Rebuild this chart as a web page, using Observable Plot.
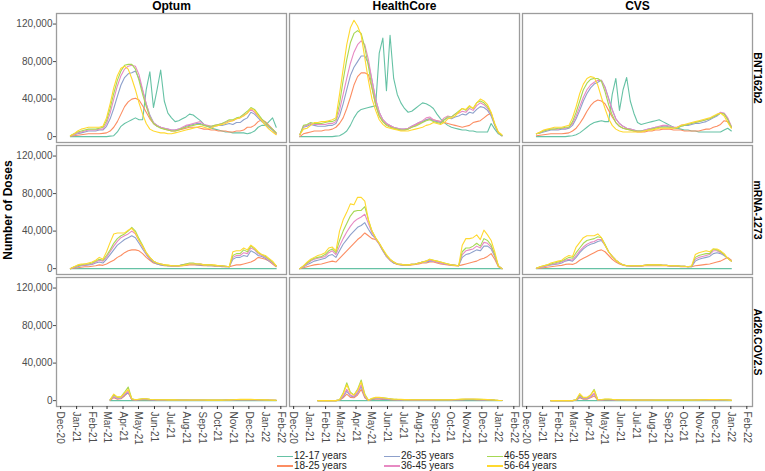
<!DOCTYPE html>
<html><head><meta charset="utf-8">
<script src="https://cdn.jsdelivr.net/npm/d3@7"></script>
<script src="https://cdn.jsdelivr.net/npm/@observablehq/plot@0.6"></script>
<style>
body{margin:0;background:#fff;font-family:"Liberation Sans",Arial,sans-serif;}
#wrap{position:relative;width:765px;height:471px;overflow:hidden;}
.lg{position:absolute;font-size:10px;color:#222;line-height:10px;white-space:nowrap;}
.sw{position:absolute;height:1.6px;width:16px;}
</style></head><body><div id="wrap"><div id="chart"></div></div>
<script>
const sources = ["Optum", "HealthCore", "CVS"];
const vaccines = ["BNT162b2", "mRNA-1273", "Ad26.COV2.S"];
const ages = ["12-17 years", "18-25 years", "26-35 years", "36-45 years", "46-55 years", "56-64 years"];
const colors = ["#66c2a5", "#fc8d62", "#8da0cb", "#e78ac3", "#a6d854", "#ffd92f"];
const monthTicks = ["2020-12-01","2021-01-01","2021-02-01","2021-03-01","2021-04-01","2021-05-01","2021-06-01","2021-07-01","2021-08-01","2021-09-01","2021-10-01","2021-11-01","2021-12-01","2022-01-01","2022-02-01"];
const yTicks = [0, 40000, 80000, 120000];

// weekly doses, thousands; series order follows `ages`
const optumStart = "2020-12-20", healthcoreStart = "2020-12-13", cvsStart = "2020-12-20";
const optumAdStart = "2021-03-07", healthcoreAdStart = "2021-01-17", cvsAdStart = "2021-01-17";

const optumBNT = [
 [0,0,0,0,0,0,0,0,0,0,0,0.5, 1,5,11,14,16,18,20,18,18,50,69,31, 50,71,38,25,20,16,17,19,21,24,23,20, 17,13,11,9,8,7,6,5,5,4,4,4, 4,3,4,6,10,12,12,16,20,10],
 [0.5,1,1.5,2,2.5,3,3,3,3,3.5,4,6, 10,16,24,32,37,40,41,39,33,26,19,14, 11,10,8,7,6,6,7,8,9,10,10,10, 9,8,8,7,7,6,6,6,5,5,6,6, 7,10,10,12,16,18,16,12,8,4],
 [1,2,3,4,5,6,6,6,7,7,11,19, 30,43,55,63,67,68,70,62,49,35,23,15, 12,10,9,8,7,7,8,9,11,12,13,14, 14,12,11,10,11,12,12,13,14,13,15,15, 18,20,26,24,20,16,13,10,7,3],
 [1,2,4,5,6,7,7,7,8,8,14,25, 40,54,65,72,75,76,75,66,50,35,22,15, 12,10,9,8,7,7,8,10,12,13,14,15, 16,13,12,11,12,13,14,15,17,17,19,20, 23,25,29,26,22,18,15,11,8,3],
 [1,3,5,6,7,8,8,8,9,10,17,30, 46,60,70,76,77,77,72,60,45,32,21,14, 11,9,8,7,6,6,7,9,10,11,12,13, 13,12,11,11,12,13,14,16,18,18,20,21, 24,27,31,29,24,19,15,11,8,4],
 [1,3,6,8,9,10,10,10,10,11,20,35, 52,65,73,75,72,62,50,36,24,14,8,6, 5,4,4,3,3,4,5,6,7,8,9,10, 11,10,9,9,11,12,13,14,16,17,19,20, 22,25,30,28,22,17,12,8,5,2]
];
const healthcoreBNT = [
 [0,0,0,0,0,0,0,0,0,0,0.5,1, 3,6,12,20,26,29,30,31,32,33,89,105, 49,108,62,45,36,30,26,27,30,33,36,35, 33,30,24,19,15,12,10,9,8,7,7,6, 6,5,5,5,5,14,8,3,1],
 [0,3,4,5,6,6,6,7,7,8,10,14, 20,30,42,55,64,68,68,66,52,34,22,16, 13,11,9,8,7,7,8,10,12,14,16,18, 19,18,17,16,15,14,13,12,11,10,11,12, 15,16,17,20,23,25,12,4,1],
 [2,10,11,13,12,11,11,11,12,12,14,22, 35,50,65,74,80,86,86,78,60,40,26,18, 14,12,10,9,8,8,9,11,13,15,16,18, 19,17,16,15,18,20,19,21,22,24,23,26, 25,29,32,31,28,22,12,4,1],
 [2,11,12,14,13,13,13,13,14,14,16,28, 45,62,78,90,98,102,98,82,60,40,26,18, 14,12,10,9,8,8,9,11,13,15,17,20, 21,18,17,16,20,22,21,24,25,27,26,30, 28,33,36,34,30,24,13,4,1],
 [2,12,13,15,14,14,14,15,16,16,18,35, 60,82,100,110,113,110,95,75,52,34,22,16, 12,10,9,8,7,7,8,10,11,13,15,17, 18,16,15,14,18,21,21,24,27,30,28,32, 30,36,38,36,32,25,13,4,1],
 [2,8,9,12,15,15,16,16,17,18,20,45, 72,98,116,124,118,108,84,60,40,28,18,13, 10,9,8,7,6,6,6,7,8,9,10,12, 13,15,14,13,15,19,20,22,26,30,29,33, 30,36,40,38,34,26,14,5,2]
];
const cvsBNT = [
 [0,0,0,0,0,0,0,0,0,0.5,1,2, 4,7,10,13,15,16,17,16,16,45,62,28, 50,63,38,25,15,13,14,15,16,17,18,16, 14,12,10,9,8,7,7,6,6,5,5,5, 5,5,5,5,7,9,6],
 [1,1.5,2,2.5,3,3,3,3,3.5,4,6,9, 14,20,27,33,37,39,38,35,28,21,15,11, 9,8,7,6,5,5,5,6,6,7,7,8, 8,8,7,7,7,6,6,6,6,6,7,8, 8,10,11,13,17,16,10],
 [3,4,5,6,7,7,7,8,8,9,12,19, 28,38,46,52,56,58,60,53,41,29,19,14, 11,9,8,7,6,6,7,8,9,10,10,11, 11,10,10,9,11,12,12,13,14,14,15,16, 18,20,22,25,25,19,10],
 [3,4,6,7,8,8,8,9,9,10,14,22, 32,42,50,55,58,60,60,52,40,28,19,14, 11,9,8,7,6,6,7,8,9,10,11,12, 12,11,10,10,12,13,13,14,15,16,17,18, 19,21,23,26,25,20,11],
 [3,4,6,7,8,8,9,9,10,10,16,26, 38,50,57,61,62,62,59,48,34,23,15,11, 9,8,7,6,6,6,6,7,8,9,10,10, 10,10,9,9,11,12,13,14,15,16,17,18, 19,21,23,25,24,18,10],
 [3,5,7,8,9,10,10,10,11,12,20,32, 46,56,62,64,63,55,42,30,19,12,8,6, 5,5,5,5,5,5,6,7,7,8,9,9, 9,9,9,10,12,13,14,15,16,17,18,19, 20,22,24,25,22,15,9]
];
const optumMRNA = [
 [0,0,0,0,0,0,0,0,0,0,0,0, 0,0,0,0,0,0,0,0,0,0,0,0, 0,0,0,0,0,0,0,0,0,0,0,0, 0,0,0,0,0,0,0,0,0,0,0,0, 0,0,0,0,0,0,0,0,0,0],
 [0,0.5,1,1.5,2,2,2.5,3,4,3.5,5,7, 9,12,14,17,19,20,20,19,16,12,9,6, 5,4,3,3,2.5,2.5,2.5,3,3.5,4,4,4, 3.5,3,3,3,2.5,2.5,2,2,2,3,4,4, 5,6,7,9,12,11,10,8,5,2],
 [0,1,2,3,3.5,4,4.5,6,7,6,10,15, 20,25,28,31,33,35,33,27,21,15,10,7, 5,4,3.5,3,3,3,3,4,4,5,5,4, 4,4,3,3,3,3,2.5,2,2,10,12,12, 14,13,19,17,14,13,11,8,6,3],
 [0,1.5,3,3.5,4,4.5,5,7,9,8,12,18, 24,29,33,35,37,40,37,30,23,16,11,8, 6,5,4,3,3,3,3,4,5,5,5,5, 5,4,4,4,3,3,3,2.5,2,12,14,14, 17,16,22,20,16,14,12,9,6,3],
 [0,2,3,4,5,5,6,8,10,9,14,20, 27,32,35,37,40,44,40,32,25,17,12,8, 6,5,4,3,3,3,3,4,5,6,6,5, 5,4,4,4,3,3,3,2.5,2,14,16,16, 20,18,24,21,17,15,13,10,7,3],
 [0,2,4,5,5,6,7,9,12,10,18,28, 37,38,38,38,41,43,38,30,24,17,12,8, 6,5,4,4,3,3,3,3,4,5,5,5, 5,4,4,4,4,3,3,2.5,2,18,19,19, 22,20,25,22,18,15,14,11,8,3]
];
const healthcoreMRNA = [
 [0,0,0,0,0,0,0,0,0,0,0,0, 0,0,0,0,0,0,0,0,0,0,0,0, 0,0,0,0,0,0,0,0,0,0,0,0, 0,0,0,0,0,0,0,0,0,0,0,0, 0,0,0,0,0,0,0,0,0],
 [0,1,2,3,4,4.5,5,6,7,8,7,11, 15,19,23,27,31,34,38,35,32,31,27,20, 13,9,6,4.5,4,3.5,3.5,4,4.5,5,6,6, 7,7,6,5,4.5,4,3.5,3,3,4,5,6, 7,8,10,11,13,16,10,2,0],
 [0,2,4,6,8,9,10,11,14,15,12,19, 26,31,36,40,44,46,49,42,36,32,26,19, 13,9,6,5,4,4,4,4.5,5,6,7,7, 8,8,7,6,5,4.5,4,3.5,3,12,15,16, 18,20,19,24,24,21,13,3,0],
 [0,2.5,5,8,10,11,12,13,17,19,15,24, 32,39,45,50,53,55,58,48,38,32,26,19, 13,9,7,5,4.5,4,4,4.5,5,6,7,8, 9,8,7,6,5,4.5,4,3.5,3,15,19,20, 21,24,22,28,27,23,14,3,0],
 [0,3,6,9,11,12,13,15,19,21,17,30, 40,48,56,61,62,62,66,52,40,33,27,20, 14,10,7,5,4.5,4,4,4.5,5,6,7,8, 10,9,8,7,6,5,4,3.5,3,18,22,22, 24,27,24,32,30,25,15,3,0],
 [0,3,7,10,12,14,15,17,22,23,19,40, 52,60,69,68,76,76,72,52,40,33,27,21, 15,10,7,5,4.5,4,4,4.5,5,6,7,8, 10,9,8,7,6,5,4,3.5,3,25,32,32, 33,36,31,41,36,30,18,3,0]
];
const cvsMRNA = [
 [0,0,0,0,0,0,0,0,0,0,0,0, 0,0,0,0,0,0,0,0,0,0,0,0, 0,0,0,0,0,0,0,0,0,0,0,0, 0,0,0,0,0,0,0,0,0,0,0,0, 0,0,0,0,0,0,0],
 [0.3,0.5,1,1.5,2,2.5,3,3.5,4.5,5,4.5,6, 9,11,13,15,17,19,20,18,14,10,7,5, 3.5,3,2.5,2.5,2.5,2.5,3,3,3,3,3,3, 3,2.5,2.5,2.5,2,2,2,2,3,3.5,4,4.5, 5,6,7,8,10,12,9],
 [0.5,1.5,2,3,4,4.5,5,6,8,9,8,12, 17,21,24,26,27,29,30,25,18,13,9,6, 4,3,3,3,3,3,3.5,4,4,4,4,3.5, 3.5,3,3,3,2.5,2.5,2,2,8,10,11,12, 13,16,17,16,14,11,8],
 [0.5,1.5,2.5,3.5,4.5,5,6,7,9,10,9,14, 19,23,26,28,29,31,31,25,18,13,9,6, 4,3,3,3,3,3,3.5,4,4,4,4,3.5, 3.5,3,3,3,2.5,2.5,2,2.5,10,12,13,14, 15,19,19,17,15,11,8],
 [0.5,2,3,4,5,6,7,8,10,12,11,17, 22,27,30,31,32,34,33,26,18,13,9,6, 4,3,3,3,3,3,3.5,4,4,4,4,3.5, 3.5,3,3,3,2.5,2.5,2,2.5,12,14,15,16, 16,21,20,18,15,11,8],
 [0.5,2,3,4,6,7,8,9,12,14,13,23, 28,33,35,35,35,37,33,25,18,13,9,6, 4,3,3,3,3,3,3.5,4,4,4,4,3.5, 3.5,3,3,3,2.5,2.5,2,3,15,17,18,19, 18,21,21,19,16,11,8]
];
const optumAD = [
 [0,0,0,0,0,0,0,0,0,0,0,0, 0,0,0,0,0,0,0,0,0,0,0,0, 0,0,0,0,0,0,0,0,0,0,0,0, 0,0,0,0,0,0,0,0,0,0,0],
 [0.5,3,1.5,2,5,8.5,1,0.5,0.8,1,1,0.8, 0.7,0.6,0.6,0.6,0.5,0.5,0.5,0.4,0.4,0.4,0.4,0.4, 0.4,0.4,0.4,0.3,0.3,0.3,0.3,0.3,0.4,0.5,0.6,0.7, 0.8,0.8,0.9,0.8,0.7,0.6,0.5,0.4,0.3,0.3,0.2],
 [0.7,4,2,2.5,6,9,1.2,0.7,1,1.3,1.3,1, 0.8,0.7,0.7,0.7,0.5,0.5,0.5,0.5,0.5,0.5,0.4,0.4, 0.4,0.4,0.4,0.4,0.4,0.4,0.4,0.4,0.5,0.6,0.7,0.8, 0.9,0.9,1,0.9,0.8,0.7,0.6,0.5,0.4,0.3,0.3],
 [0.8,4.5,2.5,3,7,10,1.5,0.8,1.2,1.5,1.5,1.2, 1,0.8,0.8,0.8,0.6,0.6,0.6,0.5,0.5,0.5,0.5,0.5, 0.5,0.5,0.5,0.4,0.4,0.4,0.4,0.4,0.5,0.6,0.8,0.9, 1,1,1.1,1,0.9,0.8,0.7,0.6,0.5,0.4,0.3],
 [1,6,3.5,4,9,14.5,2,1,1.5,2,2,1.5, 1.2,1,1,1,0.8,0.8,0.8,0.7,0.7,0.7,0.6,0.6, 0.6,0.6,0.6,0.5,0.5,0.5,0.5,0.5,0.6,0.7,0.9,1, 1.1,1.1,1.2,1.1,1,0.9,0.8,0.7,0.5,0.4,0.3],
 [1,7,4,4,8,12,2,1,1.5,2,2,1.5, 1.2,1,1,1,0.8,0.8,0.8,0.7,0.7,0.7,0.6,0.6, 0.6,0.6,0.6,0.5,0.5,0.5,0.5,0.5,0.6,0.8,1,1.2, 1.3,1.3,1.4,1.3,1.2,1,0.9,0.8,0.6,0.5,0.4]
];
const healthcoreAD = [
 [0,0,0,0,0,0,0,0,0,0, 0,0,0,0,0,0,0,0,0,0, 0,0,0,0,0,0,0,0,0,0, 0,0,0,0,0,0,0,0,0,0, 0,0,0,0,0,0,0,0,0,0, 0,0],
 [0,0,0,0,0,0, 0.4,3,7,3.5,3,6,12,3,0.2,1.2,1.5,1.5,1.3,1.2,1, 0.8,0.7,0.6,0.6,0.6,0.5,0.5,0.5,0.5,0.5, 0.5,0.5,0.5,0.5,0.5,0.5,0.5,0.6,0.7,0.8,0.9, 0.9,0.9,0.8,0.8,0.7,0.6,0.5,0.3,0.2,0.1],
 [0,0,0,0,0,0, 0.6,4,10,5,4,8,15,4,0.3,1.6,2,2,1.8,1.6,1.3, 1,0.9,0.8,0.8,0.7,0.7,0.7,0.7,0.7,0.7, 0.7,0.7,0.6,0.6,0.6,0.6,0.7,0.8,0.9,1,1.1, 1.1,1.1,1,0.9,0.8,0.7,0.6,0.4,0.2,0.1],
 [0,0,0,0,0,0, 0.7,5,12,6,4.5,9,17,5,0.4,2,2.5,2.5,2.2,2,1.6, 1.2,1,1,0.9,0.9,0.8,0.8,0.8,0.8,0.8, 0.8,0.8,0.7,0.7,0.7,0.7,0.8,0.9,1,1.2,1.3, 1.3,1.3,1.2,1.1,1,0.9,0.7,0.4,0.2,0.1],
 [0,0,0,0,0,0, 1,8,19,9,6,12,22,7,0.5,2,3,3,3,2.5,2, 1.5,1.3,1.2,1,1,1,0.9,0.9,0.9,0.9, 0.9,0.9,0.8,0.8,0.8,0.8,0.9,1,1.2,1.4,1.5, 1.5,1.5,1.4,1.3,1.2,1,0.8,0.5,0.3,0.2],
 [0,0,0,0,0,0, 1,7,17,8,6,11,20,6,0.5,2.5,3.5,3.5,3,2.5,2, 1.6,1.4,1.3,1.1,1.1,1,1,1,1,1, 1,1,0.9,0.9,0.9,0.9,1,1.2,1.4,1.6,1.7, 1.7,1.7,1.6,1.5,1.3,1.1,0.9,0.6,0.3,0.2]
];
const cvsAD = [
 [0,0,0,0,0,0,0,0,0,0, 0,0,0,0,0,0,0,0,0,0, 0,0,0,0,0,0,0,0,0,0, 0,0,0,0,0,0,0,0,0,0, 0,0,0,0,0,0,0,0,0,0, 0],
 [0,0,0,0,0,0,0, 0.4,3,1.5,1.5,3,5,0.4,0.5,0.7,0.7,0.6,0.5, 0.4,0.4,0.4,0.4,0.3,0.3,0.3,0.3,0.3,0.3,0.3,0.3, 0.3,0.3,0.3,0.3,0.3,0.3,0.3,0.3,0.3,0.3,0.4,0.5, 0.5,0.6,0.6,0.6,0.5,0.4,0.3,0.2],
 [0,0,0,0,0,0,0, 0.5,4,2,2,4,7,0.6,0.7,1,1,0.8,0.7, 0.5,0.5,0.5,0.5,0.4,0.4,0.4,0.4,0.4,0.4,0.4,0.4, 0.4,0.4,0.4,0.4,0.4,0.4,0.4,0.4,0.4,0.4,0.5,0.6, 0.7,0.7,0.7,0.7,0.6,0.5,0.4,0.3],
 [0,0,0,0,0,0,0, 0.6,5,2.5,2.5,4.5,8,0.8,0.8,1.2,1.2,1,0.8, 0.6,0.6,0.5,0.5,0.5,0.5,0.5,0.5,0.5,0.5,0.4,0.4, 0.4,0.4,0.4,0.4,0.4,0.4,0.4,0.4,0.4,0.5,0.6,0.7, 0.8,0.8,0.8,0.8,0.7,0.6,0.5,0.3],
 [0,0,0,0,0,0,0, 1,6,3,3,6,12,1,1,1.5,1.5,1.2,1, 0.8,0.8,0.7,0.7,0.6,0.6,0.6,0.6,0.6,0.6,0.5,0.5, 0.5,0.5,0.5,0.5,0.5,0.5,0.5,0.5,0.5,0.6,0.7,0.8, 0.9,1,1,1,0.9,0.8,0.6,0.4],
 [0,0,0,0,0,0,0, 1,7.6,3.5,3.5,6,11,1,1.2,1.8,1.8,1.4,1.1, 0.9,0.9,0.8,0.8,0.7,0.7,0.7,0.7,0.7,0.7,0.6,0.6, 0.6,0.6,0.6,0.6,0.6,0.6,0.6,0.6,0.6,0.7,0.8,0.9, 1,1.1,1.1,1.1,1,0.9,0.7,0.5]
];

const panels = [
  ["Optum", "BNT162b2", optumStart, optumBNT],
  ["HealthCore", "BNT162b2", healthcoreStart, healthcoreBNT],
  ["CVS", "BNT162b2", cvsStart, cvsBNT],
  ["Optum", "mRNA-1273", optumStart, optumMRNA],
  ["HealthCore", "mRNA-1273", healthcoreStart, healthcoreMRNA],
  ["CVS", "mRNA-1273", cvsStart, cvsMRNA],
  ["Optum", "Ad26.COV2.S", optumAdStart, optumAD],
  ["HealthCore", "Ad26.COV2.S", healthcoreAdStart, healthcoreAD],
  ["CVS", "Ad26.COV2.S", cvsAdStart, cvsAD]
];
const rows = [];
for (const [source, vaccine, start, series] of panels) {
  const t0 = new Date(start + "T00:00:00Z");
  series.forEach((vals, a) => vals.forEach((v, i) => rows.push({
    source, vaccine, age: ages[a], date: d3.utcDay.offset(t0, 7 * i), value: v * 1000
  })));
}

const font = "Liberation Sans, Arial, Helvetica, sans-serif";
const chart = Plot.plot({
  width: 765, height: 448,
  marginLeft: 55, marginRight: 13, marginTop: 12, marginBottom: 40,
  style: {fontFamily: font, fontSize: "10px", color: "#4d4d4d", background: "#fff", overflow: "visible"},
  fx: {domain: sources, paddingInner: 0.013, paddingOuter: 0, axis: null},
  fy: {domain: vaccines, paddingInner: 0.019, paddingOuter: 0, axis: null},
  x: {type: "utc", domain: [new Date("2020-11-23T00:00:00Z"), new Date("2022-02-12T00:00:00Z")]},
  y: {domain: [-6250, 131250]},
  color: {domain: ages, range: colors},
  marks: [
    Plot.frame({stroke: "#9c9c9c", strokeWidth: 1.3}),
    Plot.axisX({facetAnchor: "bottom", ticks: monthTicks.map(d => new Date(d + "T00:00:00Z")), tickFormat: d3.utcFormat("%b-%y"), tickRotate: 90, tickSize: 3, tickPadding: 2, label: null, stroke: "#333"}),
    Plot.axisY({facetAnchor: "left", ticks: yTicks, tickFormat: d3.format(","), tickSize: 3, tickPadding: 1, label: null}),
    Plot.lineY(rows, {x: "date", y: "value", z: "age", stroke: "age", fx: "source", fy: "vaccine", strokeWidth: 1.1}),
    Plot.text(sources, {fx: d => d, fy: () => vaccines[0], text: d => d, frameAnchor: "top", lineAnchor: "middle", dy: -7, fontWeight: "bold", fontSize: 12, fill: "#000"}),
    Plot.text(vaccines, {fx: () => "CVS", fy: d => d, text: d => d, frameAnchor: "right", textAnchor: "middle", rotate: 90, dx: 5, fontWeight: "bold", fontSize: 10.5, fill: "#000"}),
    Plot.text(["Number of Doses"], {fx: () => "Optum", fy: () => "mRNA-1273", text: d => d, frameAnchor: "left", textAnchor: "middle", rotate: -90, dx: -48, fontWeight: "bold", fontSize: 12, fill: "#000"})
  ]
});
const wrap = document.getElementById("wrap");
document.getElementById("chart").appendChild(chart);

// legend (3 columns x 2 rows)
const colX = [277, 384, 487];
const rowY = [451, 460.5];
ages.forEach((a, i) => {
  const c = Math.floor(i / 2), r = i % 2;
  const sw = document.createElement("div");
  sw.className = "sw";
  sw.style.left = colX[c] + "px";
  sw.style.top = (rowY[r] + 4.5) + "px";
  sw.style.background = colors[i];
  wrap.appendChild(sw);
  const t = document.createElement("div");
  t.className = "lg";
  t.style.left = (colX[c] + 17) + "px";
  t.style.top = rowY[r] + "px";
  t.textContent = a;
  wrap.appendChild(t);
});
</script></body></html>
